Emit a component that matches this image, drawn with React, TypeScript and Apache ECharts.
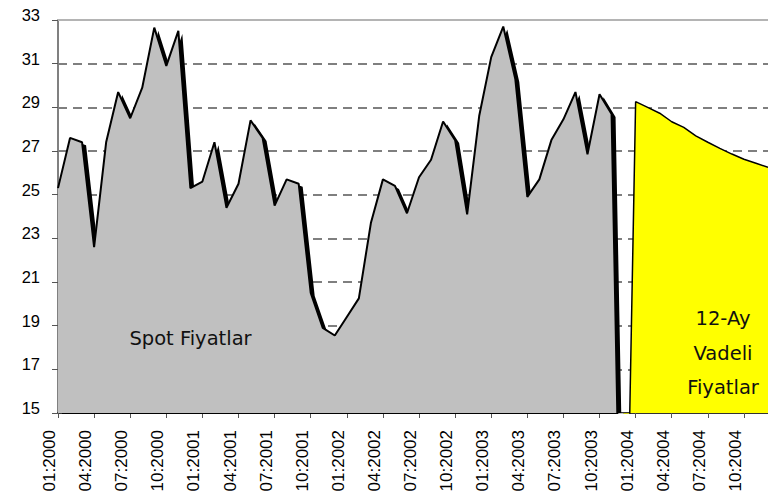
import React, { useEffect, useRef } from "react";
import * as echarts from "echarts";

const YEARS = [2000, 2001, 2002, 2003, 2004];
const MONTHS = ["01", "02", "03", "04", "05", "06", "07", "08", "09", "10", "11", "12"];
const categories: string[] = YEARS.flatMap((y) => MONTHS.map((m) => `${m}:${y}`));

// Spot prices Jan 2000 .. Nov 2003, then 0 at Dec 2003 (drop to axis)
const spotValues: number[] = [
  25.3, 27.6, 27.4, 22.6, 27.4, 29.7, 28.5, 29.9, 32.65, 30.9, 32.5, 25.3,
  25.6, 27.4, 24.4, 25.5, 28.4, 27.6, 24.5, 25.7, 25.5, 20.5, 18.9, 18.55,
  19.4, 20.25, 23.7, 25.7, 25.4, 24.15, 25.8, 26.6, 28.35, 27.5, 24.1, 28.6,
  31.3, 32.7, 30.3, 24.9, 25.7, 27.5, 28.45, 29.7, 26.85, 29.6, 28.7, 0,
];
// 12-month futures Jan 2004 .. Dec 2004 (0 at Dec 2003)
const futuresValues: number[] = [
  0, 29.26, 29.0, 28.73, 28.34, 28.08, 27.69, 27.4, 27.12, 26.86, 26.62, 26.44, 26.25,
];

const Y_MIN = 15;
const Y_MAX = 33;
const Y_STEP = 2;

const spotLabel = "Spot Fiyatlar";
const futuresLabel = "12-Ay\nVadeli\nFiyatlar";

export default function App() {
  const ref = useRef<HTMLDivElement>(null);
  useEffect(() => {
    document.body.style.margin = "0";
    if (!ref.current) return;
    const chart = echarts.init(ref.current, null, { renderer: "svg" });
    const spotData = categories.map((_, i) => (i < spotValues.length ? spotValues[i] : "-"));
    const futStart = spotValues.length - 1;
    const futData = categories.map((_, i) =>
      i >= futStart && i - futStart < futuresValues.length ? futuresValues[i - futStart] : "-"
    );
    chart.setOption({
      animation: false,
      backgroundColor: "#ffffff",
      grid: { left: 58, top: 20, width: 715, height: 393, containLabel: false },
      xAxis: [
        {
          type: "category",
          data: categories,
          boundaryGap: false,
          axisLine: { show: true, lineStyle: { color: "#333", width: 2 } },
          axisTick: { show: true, interval: 2, length: 5, lineStyle: { color: "#555", width: 1 } },
          axisLabel: {
            interval: 2,
            rotate: 90,
            margin: 17,
            verticalAlign: "bottom",
            fontFamily: "Liberation Sans",
            fontSize: 17,
            color: "#000",
          },
          splitLine: { show: false },
        },
        {
          type: "category",
          data: categories,
          position: "top",
          boundaryGap: false,
          axisLine: { show: true, lineStyle: { color: "#b4b4b4", width: 2 } },
          axisTick: { show: false },
          axisLabel: { show: false },
          splitLine: { show: false },
        },
      ],
      yAxis: {
        type: "value",
        min: Y_MIN,
        max: Y_MAX,
        interval: Y_STEP,
        axisLine: { show: true, lineStyle: { color: "#808080", width: 2 } },
        axisTick: { show: true, length: 6, lineStyle: { color: "#555", width: 1 } },
        axisLabel: {
          margin: 18,
          verticalAlign: "bottom",
          lineHeight: 10,
          fontFamily: "Liberation Sans",
          fontSize: 16.5,
          color: "#000",
        },
        splitLine: {
          show: true,
          showMinLine: false,
          showMaxLine: false,
          lineStyle: { color: "#555", width: 1.5, type: [9, 6] },
        },
      },
      series: [
        {
          name: "Spot",
          type: "line",
          data: spotData,
          showSymbol: false,
          symbol: "none",
          lineStyle: { color: "#000", width: 2 },
          areaStyle: {
            color: "#c0c0c0",
            opacity: 1,
            shadowColor: "#000",
            shadowOffsetX: 4,
            shadowOffsetY: 3,
            shadowBlur: 0,
          },
          z: 2,
        },
        {
          name: "Vadeli",
          type: "line",
          data: futData,
          showSymbol: false,
          symbol: "none",
          lineStyle: { color: "#000", width: 1.5 },
          areaStyle: { color: "#ffff00", opacity: 1 },
          z: 3,
        },
      ],
      graphic: [
        {
          type: "text",
          x: 190.5,
          y: 338,
          z: 100,
          style: {
            text: spotLabel,
            fontFamily: "DejaVu Sans",
            fontSize: 19.5,
            fill: "#111",
            align: "center",
            verticalAlign: "middle",
          },
        },
        {
          type: "text",
          x: 723,
          y: 353,
          z: 100,
          style: {
            text: futuresLabel,
            fontFamily: "DejaVu Sans",
            fontSize: 19.5,
            lineHeight: 34.5,
            fill: "#111",
            align: "center",
            verticalAlign: "middle",
          },
        },
      ],
    });
    return () => chart.dispose();
  }, []);
  return <div ref={ref} style={{ width: 768, height: 502 }} />;
}
